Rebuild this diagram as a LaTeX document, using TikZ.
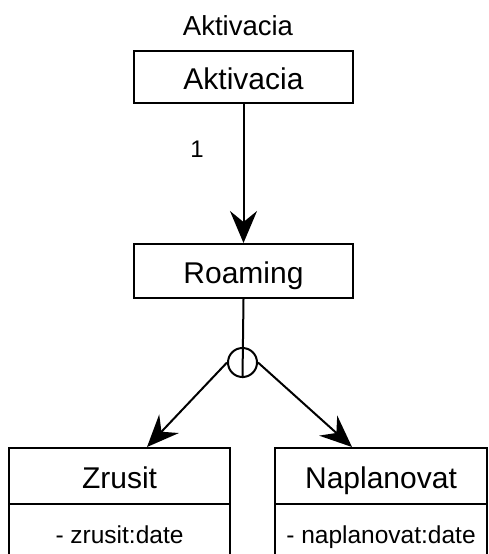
\documentclass[tikz,border=0pt]{standalone}
\usepackage{fontspec}
\setmainfont{Liberation Sans}
\usetikzlibrary{arrows.meta}
\begin{document}
\begin{tikzpicture}[x=1pt,y=-1pt,
  box/.style={draw, line width=2pt, rectangle, inner sep=0pt, anchor=north west,
    font=\fontsize{30}{36}\selectfont, text height=25.5pt, text depth=0pt},
  attrbox/.style={draw, line width=2pt, rectangle, inner sep=0pt, anchor=north west,
    font=\fontsize{24.5}{29}\selectfont, text height=17.6pt, text depth=0pt},
  lbl/.style={anchor=base, inner sep=0pt},
  conn/.style={line width=2pt, -{Stealth[length=32pt, width=27pt, inset=11pt]}},
  plain/.style={line width=2pt}]
\useasboundingbox (0,0) rectangle (488,554);
\clip (0,0) rectangle (488,554);

\node[lbl, font=\fontsize{27.5}{33}\selectfont] (title) at (238,35) {Aktivacia};
\node[box, minimum width=219pt, minimum height=52pt] (akt) at (133,50) {Aktivacia};
\node[box, minimum width=219pt, minimum height=54pt] (roam) at (133,243) {Roaming};
\node[draw, circle, line width=2pt, minimum size=29pt, inner sep=0pt] (circ) at (242.5,362.5) {};

\node[box, minimum width=221pt, minimum height=56pt] (zr) at (8,447) {Zrusit};
\node[attrbox, minimum width=221pt, minimum height=60.4pt] (zra) at (8,503) {- zrusit:date};
\node[box, minimum width=212pt, minimum height=56pt] (nap) at (274,447) {Naplanovat};
\node[attrbox, minimum width=212pt, minimum height=60.4pt] (napa) at (274,503) {- naplanovat:date};

\node[lbl, font=\fontsize{24}{29}\selectfont] (one) at (197,157) {1};

\coordinate (zrin) at (147,447);
\coordinate (napin) at (352,447);

\draw[conn] (akt.south) -- (roam.north);
\draw[plain] (roam.south) -- (circ.south);
\draw[conn] (circ.west) -- (zrin);
\draw[conn] (circ.east) -- (napin);
\end{tikzpicture}
\end{document}
